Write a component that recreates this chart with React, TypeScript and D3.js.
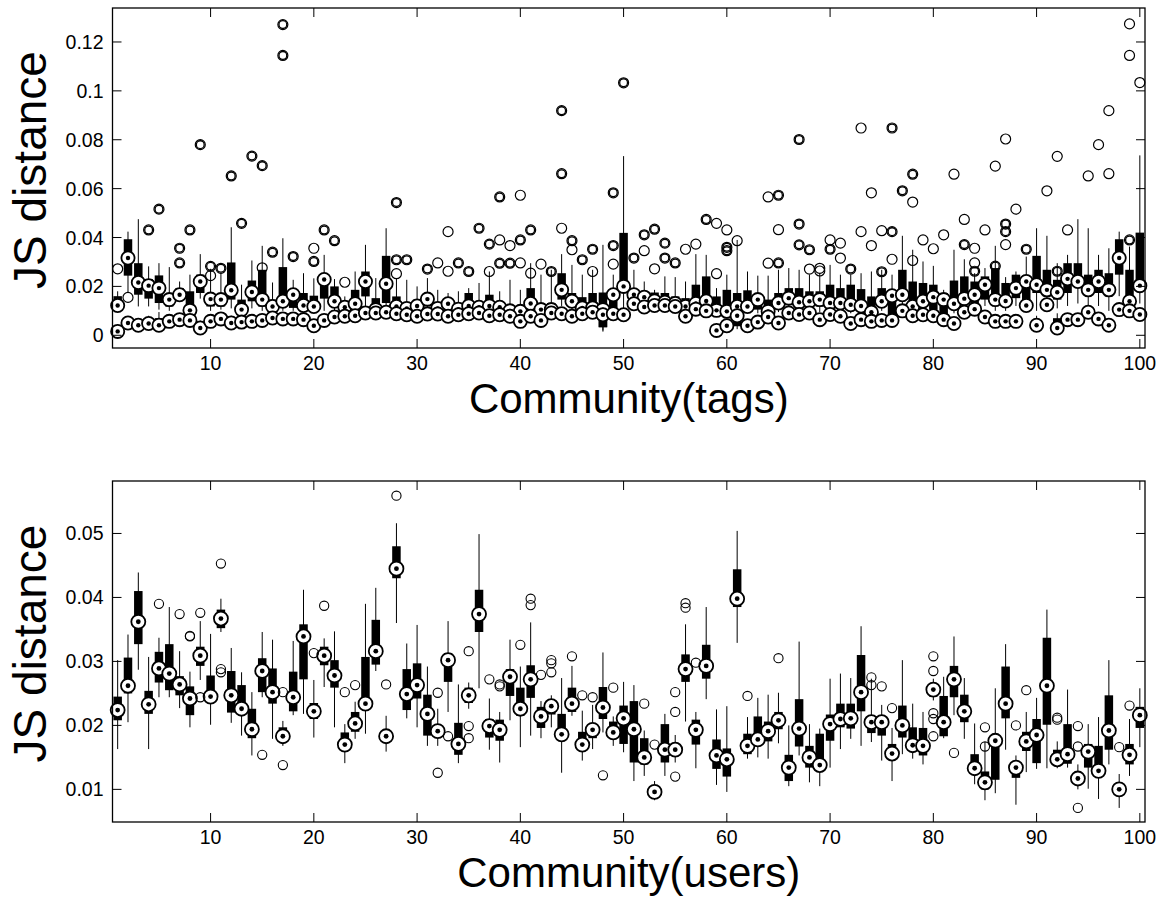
import React from "react";
import * as d3 from "d3";

// Each box row is [lower whisker, Q1, median, Q3, upper whisker]
type Stat = [number, number, number, number, number];
type Outlier = [number, number]; // [community, JS distance]

const communities = d3.range(1, 101);
const xTicks = [10, 20, 30, 40, 50, 60, 70, 80, 90, 100];
const tagsYTicks = [0, 0.02, 0.04, 0.06, 0.08, 0.1, 0.12];
const usersYTicks = [0.01, 0.02, 0.03, 0.04, 0.05];
const tagsDomain: [number, number] = [-0.0052, 0.1339];
const usersDomain: [number, number] = [0.0049, 0.0582];

// Community(tags): upper distribution per community
const tagsUpper: Stat[] = [
  [0.0095, 0.011, 0.0122, 0.016, 0.018], [0.0173, 0.0244, 0.0316, 0.0393, 0.0424],
  [0.0118, 0.0166, 0.0216, 0.0295, 0.0475], [0.0118, 0.015, 0.0203, 0.023, 0.0282],
  [0.0105, 0.0132, 0.0193, 0.0245, 0.0295], [0.01, 0.0118, 0.0146, 0.016, 0.0279],
  [0.014, 0.015, 0.0166, 0.0193, 0.022], [0.007, 0.0091, 0.0102, 0.018, 0.0248],
  [0.015, 0.0173, 0.022, 0.0248, 0.0332], [0.01, 0.0118, 0.0148, 0.0173, 0.0272],
  [0.0105, 0.0118, 0.0146, 0.0159, 0.0254], [0.011, 0.0146, 0.0184, 0.0298, 0.0442],
  [0.008, 0.0091, 0.0105, 0.0146, 0.0207], [0.011, 0.0139, 0.0177, 0.0224, 0.0306],
  [0.01, 0.0118, 0.0146, 0.0268, 0.0366], [0.008, 0.0091, 0.0118, 0.0146, 0.0216],
  [0.01, 0.0125, 0.0139, 0.0279, 0.0397], [0.01, 0.0112, 0.0166, 0.0173, 0.0227],
  [0.0085, 0.0098, 0.0122, 0.0173, 0.0254], [0.009, 0.0112, 0.0118, 0.0162, 0.0233],
  [0.01, 0.015, 0.0228, 0.025, 0.0329], [0.01, 0.0118, 0.0139, 0.02, 0.023],
  [0.0085, 0.0091, 0.0115, 0.0132, 0.0159], [0.0095, 0.0118, 0.0129, 0.0186, 0.0261],
  [0.012, 0.0159, 0.022, 0.0261, 0.037], [0.0085, 0.0098, 0.0105, 0.0152, 0.0234],
  [0.01, 0.0132, 0.0211, 0.0325, 0.0438], [0.009, 0.0105, 0.0118, 0.0159, 0.0234],
  [0.0085, 0.0091, 0.011, 0.0132, 0.0227], [0.007, 0.0071, 0.012, 0.0146, 0.02],
  [0.01, 0.0118, 0.0148, 0.016, 0.0234], [0.008, 0.0088, 0.011, 0.0125, 0.0186],
  [0.007, 0.0078, 0.0129, 0.014, 0.0173], [0.008, 0.0091, 0.0107, 0.0118, 0.018],
  [0.0085, 0.0112, 0.012, 0.0173, 0.0193], [0.008, 0.0091, 0.0115, 0.0125, 0.0214],
  [0.008, 0.0098, 0.012, 0.0166, 0.0261], [0.008, 0.0091, 0.0115, 0.0125, 0.018],
  [0.007, 0.0078, 0.01, 0.0112, 0.0227], [0.0045, 0.005, 0.0098, 0.0118, 0.0186],
  [0.009, 0.0112, 0.013, 0.0193, 0.0295], [0.008, 0.0091, 0.0105, 0.0132, 0.0248],
  [0.008, 0.0088, 0.0105, 0.0132, 0.0268], [0.012, 0.0146, 0.0186, 0.0254, 0.0332],
  [0.01, 0.0118, 0.0139, 0.0173, 0.0288], [0.008, 0.0098, 0.0112, 0.0156, 0.0248],
  [0.008, 0.0091, 0.0112, 0.0173, 0.0268], [0.002, 0.0033, 0.0105, 0.0175, 0.037],
  [0.008, 0.0098, 0.0166, 0.018, 0.0248], [0.009, 0.0187, 0.02, 0.0419, 0.0733],
  [0.011, 0.0146, 0.0166, 0.0173, 0.0268], [0.011, 0.0139, 0.0156, 0.0173, 0.022],
  [0.011, 0.0125, 0.014, 0.0175, 0.0186], [0.01, 0.0132, 0.0135, 0.0173, 0.0241],
  [0.0095, 0.0118, 0.013, 0.0159, 0.0238], [0.0085, 0.0112, 0.0118, 0.0152, 0.022],
  [0.01, 0.0118, 0.013, 0.0207, 0.0332], [0.01, 0.0125, 0.014, 0.0241, 0.0329],
  [0.008, 0.0091, 0.0102, 0.0159, 0.0193], [0.007, 0.0078, 0.0098, 0.0186, 0.0248],
  [0.0075, 0.0085, 0.0118, 0.0173, 0.039], [0.009, 0.0105, 0.0118, 0.0184, 0.0261],
  [0.009, 0.0105, 0.0146, 0.015, 0.0244], [0.007, 0.0085, 0.0098, 0.0146, 0.0244],
  [0.0095, 0.0118, 0.0132, 0.0173, 0.0268], [0.011, 0.0146, 0.0152, 0.0193, 0.0275],
  [0.0085, 0.0091, 0.0135, 0.0193, 0.0268], [0.01, 0.0132, 0.0139, 0.018, 0.0248],
  [0.0095, 0.0118, 0.0146, 0.018, 0.0254], [0.008, 0.0091, 0.0132, 0.0207, 0.0288],
  [0.0095, 0.0118, 0.0132, 0.0193, 0.0248], [0.009, 0.0118, 0.0125, 0.0207, 0.0248],
  [0.0085, 0.0105, 0.012, 0.0189, 0.0254], [0.007, 0.0091, 0.0094, 0.0159, 0.0261],
  [0.01, 0.0132, 0.0139, 0.0193, 0.0268], [0.008, 0.0084, 0.0162, 0.018, 0.0248],
  [0.012, 0.0159, 0.0166, 0.0268, 0.0407], [0.009, 0.0112, 0.0118, 0.022, 0.035],
  [0.01, 0.0118, 0.0139, 0.0214, 0.0302], [0.009, 0.0105, 0.0156, 0.0207, 0.0284],
  [0.008, 0.0084, 0.0146, 0.0173, 0.0186], [0.009, 0.0118, 0.0129, 0.0224, 0.035],
  [0.011, 0.0146, 0.015, 0.0241, 0.0311], [0.011, 0.0132, 0.0166, 0.022, 0.0254],
  [0.012, 0.0146, 0.0207, 0.0241, 0.0275], [0.01, 0.0125, 0.0146, 0.0275, 0.0366],
  [0.01, 0.0132, 0.014, 0.0214, 0.0238], [0.012, 0.0152, 0.0193, 0.0248, 0.0261],
  [0.012, 0.0139, 0.022, 0.0244, 0.0322], [0.01, 0.0173, 0.0207, 0.0325, 0.0438],
  [0.011, 0.0159, 0.0186, 0.0268, 0.0407], [0.011, 0.0146, 0.0176, 0.0227, 0.0295],
  [0.012, 0.0173, 0.0231, 0.0295, 0.0329], [0.013, 0.02, 0.022, 0.0295, 0.0475],
  [0.011, 0.0166, 0.0186, 0.0248, 0.0438], [0.012, 0.0173, 0.022, 0.0268, 0.0329],
  [0.01, 0.0159, 0.0186, 0.0254, 0.0356], [0.016, 0.0248, 0.0316, 0.0393, 0.0424],
  [0.009, 0.013, 0.0139, 0.0268, 0.0363], [0.013, 0.02, 0.0203, 0.042, 0.0736],
];

// Community(tags): lower distribution per community
const tagsLower: Stat[] = [
  [0.0, 0.0008, 0.0016, 0.003, 0.0045], [0.0035, 0.0042, 0.005, 0.0058, 0.007],
  [0.0025, 0.0035, 0.0041, 0.005, 0.0062], [0.003, 0.0038, 0.0048, 0.006, 0.008],
  [0.0025, 0.0033, 0.0041, 0.007, 0.0095], [0.004, 0.0048, 0.0057, 0.0065, 0.008],
  [0.005, 0.0056, 0.0064, 0.0072, 0.0085], [0.004, 0.005, 0.0061, 0.0072, 0.009],
  [0.001, 0.002, 0.003, 0.0045, 0.006], [0.004, 0.0048, 0.0057, 0.0068, 0.0085],
  [0.005, 0.0058, 0.0067, 0.0075, 0.009], [0.003, 0.004, 0.005, 0.0062, 0.008],
  [0.004, 0.0046, 0.0054, 0.0065, 0.008], [0.004, 0.0048, 0.0057, 0.0066, 0.008],
  [0.0045, 0.0052, 0.0061, 0.007, 0.0085], [0.0055, 0.0062, 0.0071, 0.008, 0.0095],
  [0.005, 0.0058, 0.0067, 0.0076, 0.009], [0.005, 0.0058, 0.0067, 0.0076, 0.009],
  [0.0045, 0.0055, 0.0064, 0.0075, 0.009], [0.002, 0.003, 0.0039, 0.005, 0.0065],
  [0.0045, 0.0052, 0.0061, 0.007, 0.0085], [0.006, 0.0066, 0.0075, 0.0084, 0.0098],
  [0.006, 0.0068, 0.0078, 0.0088, 0.01], [0.0065, 0.0072, 0.008, 0.0088, 0.01],
  [0.0075, 0.0083, 0.0091, 0.01, 0.0115], [0.0075, 0.0083, 0.0091, 0.0098, 0.011],
  [0.008, 0.0087, 0.0094, 0.0102, 0.0115], [0.007, 0.008, 0.0088, 0.0096, 0.011],
  [0.0065, 0.0076, 0.0084, 0.0092, 0.0105], [0.006, 0.0068, 0.0078, 0.0086, 0.01],
  [0.007, 0.008, 0.0087, 0.0095, 0.0108], [0.007, 0.008, 0.0087, 0.0095, 0.0108],
  [0.006, 0.007, 0.0078, 0.0088, 0.01], [0.0065, 0.0076, 0.0084, 0.0092, 0.0105],
  [0.007, 0.008, 0.0088, 0.0096, 0.011], [0.0075, 0.0083, 0.0091, 0.0098, 0.0112],
  [0.0065, 0.0072, 0.008, 0.0088, 0.01], [0.0065, 0.0076, 0.0084, 0.0092, 0.0105],
  [0.006, 0.007, 0.0078, 0.0086, 0.01], [0.004, 0.0048, 0.0057, 0.0066, 0.008],
  [0.006, 0.007, 0.0078, 0.0086, 0.01], [0.0045, 0.0052, 0.0061, 0.007, 0.0085],
  [0.0075, 0.0083, 0.0091, 0.0098, 0.0112], [0.007, 0.008, 0.0088, 0.0096, 0.011],
  [0.006, 0.007, 0.0078, 0.0086, 0.01], [0.007, 0.008, 0.0088, 0.0096, 0.011],
  [0.008, 0.0087, 0.0094, 0.0102, 0.0115], [0.0015, 0.0033, 0.0084, 0.0095, 0.011],
  [0.007, 0.008, 0.0088, 0.0096, 0.011], [0.0065, 0.0076, 0.0084, 0.0092, 0.0105],
  [0.011, 0.012, 0.0129, 0.0138, 0.015], [0.0095, 0.0106, 0.0116, 0.0125, 0.014],
  [0.01, 0.0112, 0.0122, 0.013, 0.0145], [0.01, 0.0112, 0.0122, 0.013, 0.0145],
  [0.0095, 0.0108, 0.0118, 0.0126, 0.014], [0.0055, 0.0066, 0.0078, 0.0088, 0.01],
  [0.0085, 0.0096, 0.0107, 0.0115, 0.013], [0.008, 0.009, 0.01, 0.011, 0.0125],
  [0.0, 0.001, 0.002, 0.0035, 0.005], [0.0015, 0.0028, 0.0039, 0.005, 0.0065],
  [0.0025, 0.0037, 0.008, 0.0091, 0.0105], [0.0015, 0.0028, 0.0039, 0.005, 0.0065],
  [0.003, 0.0044, 0.0054, 0.0064, 0.008], [0.0055, 0.0065, 0.0075, 0.0084, 0.0095],
  [0.0025, 0.0038, 0.005, 0.0062, 0.0075], [0.007, 0.0082, 0.0091, 0.01, 0.0115],
  [0.0065, 0.0075, 0.0085, 0.0094, 0.0108], [0.007, 0.0082, 0.0091, 0.01, 0.0115],
  [0.004, 0.0054, 0.0064, 0.0074, 0.0088], [0.0065, 0.0075, 0.0085, 0.0094, 0.0108],
  [0.0055, 0.0068, 0.0078, 0.0088, 0.01], [0.0025, 0.0038, 0.0048, 0.006, 0.0075],
  [0.004, 0.0054, 0.0064, 0.0074, 0.0088], [0.0035, 0.0047, 0.0057, 0.0068, 0.008],
  [0.004, 0.0051, 0.0061, 0.007, 0.0085], [0.004, 0.0051, 0.0061, 0.007, 0.0085],
  [0.008, 0.009, 0.01, 0.011, 0.0125], [0.0055, 0.007, 0.008, 0.009, 0.0105],
  [0.006, 0.0074, 0.0084, 0.0094, 0.0108], [0.0055, 0.007, 0.008, 0.009, 0.0105],
  [0.004, 0.0054, 0.0064, 0.0074, 0.0088], [0.0025, 0.0038, 0.0048, 0.006, 0.0075],
  [0.007, 0.0084, 0.0094, 0.0104, 0.0118], [0.0085, 0.0096, 0.0107, 0.0117, 0.013],
  [0.005, 0.0065, 0.0075, 0.0085, 0.01], [0.0035, 0.0047, 0.0057, 0.0068, 0.008],
  [0.0035, 0.0047, 0.0057, 0.0068, 0.008], [0.0035, 0.0047, 0.0057, 0.0068, 0.008],
  [0.01, 0.0112, 0.0122, 0.0132, 0.0145], [0.002, 0.003, 0.0041, 0.006, 0.008],
  [0.01, 0.0115, 0.0125, 0.0135, 0.015], [0.001, 0.002, 0.003, 0.007, 0.009],
  [0.004, 0.0054, 0.0064, 0.0074, 0.0088], [0.004, 0.0054, 0.0064, 0.0074, 0.0088],
  [0.007, 0.0084, 0.0094, 0.0104, 0.0118], [0.0045, 0.0057, 0.0067, 0.0077, 0.009],
  [0.002, 0.003, 0.0041, 0.0052, 0.0065], [0.008, 0.0095, 0.0105, 0.0115, 0.013],
  [0.0075, 0.009, 0.01, 0.011, 0.0125], [0.006, 0.0075, 0.0085, 0.0095, 0.011],
];

// Outliers present in both tag distributions
const tagsOutliersBoth: Outlier[] = [
  [4, 0.0431], [5, 0.0516], [7, 0.0356], [7, 0.0296], [8, 0.0431], [9, 0.078],
  [10, 0.0282], [11, 0.0274], [12, 0.0652], [13, 0.0458], [14, 0.0733], [15, 0.0694],
  [16, 0.034], [17, 0.1271], [17, 0.1145], [18, 0.0322], [20, 0.0302], [21, 0.0431],
  [22, 0.0387], [28, 0.0543], [28, 0.0309], [29, 0.0309], [31, 0.0271], [34, 0.0296],
  [35, 0.0261], [36, 0.0438], [37, 0.0373], [38, 0.0566], [38, 0.0295], [39, 0.0295],
  [40, 0.039], [41, 0.0431], [43, 0.0261], [44, 0.0919], [44, 0.0661], [45, 0.0387],
  [46, 0.0309], [47, 0.0352], [49, 0.0583], [49, 0.0367], [50, 0.1033], [51, 0.0316],
  [52, 0.0411], [53, 0.0434], [54, 0.0377], [54, 0.0316], [55, 0.0296], [58, 0.0474],
  [60, 0.036], [60, 0.0346], [65, 0.0573], [65, 0.0296], [67, 0.0801], [67, 0.0455],
  [67, 0.037], [68, 0.035], [70, 0.0352], [72, 0.0271], [75, 0.026], [76, 0.0848],
  [76, 0.0424], [77, 0.0591], [78, 0.0659], [83, 0.0371], [84, 0.0262], [86, 0.0283],
  [87, 0.0455], [87, 0.0424], [89, 0.0352], [92, 0.0262], [99, 0.039],
];

// Outliers of the upper tag distribution only
const tagsOutliersUpper: Outlier[] = [
  [1, 0.0272], [2, 0.0155], [10, 0.0244], [15, 0.0276], [20, 0.0356], [23, 0.0217],
  [28, 0.0252], [32, 0.0296], [33, 0.0424], [33, 0.0262], [37, 0.0261], [38, 0.039],
  [39, 0.0367], [40, 0.0573], [40, 0.0296], [41, 0.0254], [42, 0.0291], [44, 0.0438],
  [45, 0.035], [47, 0.0261], [49, 0.0291], [52, 0.0346], [53, 0.0272], [56, 0.0352],
  [57, 0.0373], [59, 0.0458], [59, 0.0252], [60, 0.0431], [61, 0.0387], [64, 0.0566],
  [64, 0.0295], [65, 0.0432], [68, 0.0271], [69, 0.0274], [69, 0.0263], [70, 0.039],
  [71, 0.0377], [71, 0.0316], [73, 0.0848], [73, 0.0424], [74, 0.0583], [74, 0.0367],
  [75, 0.0428], [76, 0.0311], [78, 0.0545], [78, 0.0306], [79, 0.039], [80, 0.0354],
  [81, 0.0411], [82, 0.0659], [83, 0.0474], [84, 0.0356], [84, 0.0296], [85, 0.0431],
  [86, 0.0692], [87, 0.0803], [87, 0.0371], [88, 0.0516], [91, 0.0591], [92, 0.0732],
  [93, 0.0431], [95, 0.0652], [96, 0.078], [97, 0.0661], [97, 0.0919], [99, 0.1274],
  [99, 0.1145], [100, 0.1034],
];

// Community(users)
const usersStats: Stat[] = [
  [0.0163, 0.0208, 0.0224, 0.0245, 0.0302], [0.0205, 0.025, 0.0262, 0.0306, 0.0342],
  [0.0287, 0.0327, 0.0362, 0.041, 0.0439], [0.0163, 0.0218, 0.0233, 0.0254, 0.0307],
  [0.0244, 0.0267, 0.0289, 0.0315, 0.0337], [0.0244, 0.0255, 0.0281, 0.0327, 0.0385],
  [0.0227, 0.0247, 0.0264, 0.0277, 0.0316], [0.0197, 0.0216, 0.0242, 0.0261, 0.0284],
  [0.0271, 0.0293, 0.0309, 0.0323, 0.0363], [0.0201, 0.0237, 0.0245, 0.0278, 0.0343],
  [0.0346, 0.0352, 0.0367, 0.0381, 0.0398], [0.0204, 0.022, 0.0247, 0.0285, 0.0321],
  [0.0184, 0.022, 0.0226, 0.0263, 0.0283], [0.0153, 0.018, 0.0194, 0.0226, 0.0252],
  [0.0244, 0.0252, 0.0285, 0.0305, 0.0346], [0.0179, 0.0234, 0.0252, 0.0289, 0.0334],
  [0.0168, 0.018, 0.0183, 0.0197, 0.0207], [0.0216, 0.0222, 0.0244, 0.0284, 0.0332],
  [0.0218, 0.0272, 0.0339, 0.0358, 0.0412], [0.0181, 0.021, 0.0222, 0.0235, 0.0271],
  [0.026, 0.0294, 0.0309, 0.0323, 0.0336], [0.0197, 0.0259, 0.0278, 0.0302, 0.0347],
  [0.0141, 0.0165, 0.017, 0.0189, 0.0202], [0.0179, 0.019, 0.0203, 0.0221, 0.0237],
  [0.0187, 0.023, 0.0234, 0.0307, 0.039], [0.0285, 0.0295, 0.0316, 0.0365, 0.0415],
  [0.0159, 0.0178, 0.0183, 0.0192, 0.0215], [0.036, 0.043, 0.0445, 0.048, 0.0516],
  [0.0211, 0.0224, 0.0249, 0.0288, 0.0328], [0.0197, 0.0242, 0.0263, 0.0297, 0.0357],
  [0.0168, 0.0184, 0.0218, 0.0248, 0.0292], [0.0168, 0.0183, 0.0191, 0.02, 0.0226],
  [0.0221, 0.0268, 0.0302, 0.0313, 0.0363], [0.0141, 0.0154, 0.0171, 0.0204, 0.0264],
  [0.0226, 0.0235, 0.0247, 0.0259, 0.0267], [0.0258, 0.0346, 0.0374, 0.0412, 0.0499],
  [0.0162, 0.0181, 0.0199, 0.021, 0.0242], [0.0142, 0.0176, 0.0193, 0.0209, 0.0221],
  [0.0208, 0.0246, 0.0276, 0.0288, 0.0334], [0.0166, 0.0215, 0.0226, 0.0259, 0.0292],
  [0.0184, 0.0243, 0.0272, 0.0294, 0.0361], [0.018, 0.0196, 0.0214, 0.0229, 0.0238],
  [0.0197, 0.0217, 0.023, 0.0237, 0.0247], [0.0126, 0.018, 0.0186, 0.0218, 0.0274],
  [0.0215, 0.0221, 0.0234, 0.0259, 0.0293], [0.0145, 0.0162, 0.017, 0.019, 0.0223],
  [0.0163, 0.018, 0.0193, 0.0201, 0.0232], [0.0189, 0.021, 0.0228, 0.026, 0.0314],
  [0.0168, 0.018, 0.0189, 0.0206, 0.0214], [0.0158, 0.0171, 0.0211, 0.0231, 0.0268],
  [0.0113, 0.0142, 0.0194, 0.0238, 0.0263], [0.0121, 0.0139, 0.015, 0.018, 0.0192],
  [0.0083, 0.0093, 0.0096, 0.01, 0.0113], [0.0121, 0.0142, 0.0162, 0.0202, 0.0218],
  [0.0142, 0.0155, 0.0162, 0.017, 0.0185], [0.0206, 0.0268, 0.0288, 0.0311, 0.0358],
  [0.0133, 0.017, 0.0193, 0.0209, 0.0221], [0.0241, 0.0273, 0.0293, 0.0326, 0.0385],
  [0.0107, 0.0132, 0.0153, 0.0178, 0.0225], [0.0096, 0.012, 0.0147, 0.0164, 0.023],
  [0.0329, 0.0385, 0.0398, 0.0444, 0.0504], [0.0148, 0.0155, 0.0168, 0.0187, 0.0213],
  [0.015, 0.017, 0.0178, 0.0214, 0.0243], [0.0148, 0.0175, 0.0191, 0.0206, 0.0248],
  [0.0172, 0.0194, 0.0208, 0.0221, 0.0251], [0.0105, 0.0113, 0.0134, 0.0154, 0.02],
  [0.0153, 0.0167, 0.0195, 0.0241, 0.0331], [0.0111, 0.0134, 0.015, 0.0168, 0.0202],
  [0.0105, 0.0132, 0.0138, 0.0187, 0.0195], [0.0134, 0.0176, 0.0202, 0.0217, 0.0273],
  [0.0163, 0.0197, 0.021, 0.0234, 0.0281], [0.0179, 0.0195, 0.0211, 0.0234, 0.0274],
  [0.0168, 0.0222, 0.0252, 0.031, 0.0355], [0.0174, 0.0188, 0.0205, 0.0212, 0.0273],
  [0.0145, 0.0184, 0.0205, 0.0213, 0.0232], [0.0113, 0.015, 0.0156, 0.0171, 0.0196],
  [0.0155, 0.0181, 0.02, 0.0231, 0.0302], [0.0148, 0.0165, 0.0169, 0.0197, 0.0234],
  [0.0139, 0.0153, 0.0168, 0.0196, 0.0221], [0.0239, 0.0245, 0.0256, 0.0265, 0.0273],
  [0.018, 0.0183, 0.0205, 0.0246, 0.0276], [0.0216, 0.0244, 0.0272, 0.0293, 0.0339],
  [0.0179, 0.0205, 0.0222, 0.0248, 0.0274], [0.0108, 0.0125, 0.0133, 0.0155, 0.0203],
  [0.0083, 0.01, 0.0111, 0.0128, 0.0174], [0.0094, 0.0115, 0.0176, 0.018, 0.0258],
  [0.0162, 0.0211, 0.0234, 0.0292, 0.0327], [0.0076, 0.0118, 0.0134, 0.0138, 0.0153],
  [0.0127, 0.016, 0.0175, 0.019, 0.0221], [0.0132, 0.0141, 0.0185, 0.021, 0.0243],
  [0.0133, 0.0201, 0.0262, 0.0337, 0.0381], [0.0133, 0.0143, 0.0147, 0.0162, 0.0175],
  [0.0134, 0.014, 0.0155, 0.0202, 0.0256], [0.01, 0.011, 0.0117, 0.0125, 0.0139],
  [0.0101, 0.0134, 0.0159, 0.0171, 0.0202], [0.0085, 0.012, 0.0129, 0.0168, 0.0213],
  [0.0139, 0.0162, 0.0192, 0.0247, 0.0302], [0.0071, 0.0095, 0.01, 0.0108, 0.0124],
  [0.0121, 0.0139, 0.0154, 0.0171, 0.021], [0.0166, 0.0196, 0.0216, 0.0229, 0.0258],
];

const usersOutliers: Outlier[] = [
  [5, 0.039], [7, 0.0374], [8, 0.0339], [8, 0.034], [9, 0.0376], [9, 0.0244],
  [11, 0.0453], [11, 0.0288], [11, 0.0283], [15, 0.0154], [17, 0.0252], [17, 0.0138],
  [20, 0.0313], [21, 0.0387], [23, 0.0252], [24, 0.0263], [27, 0.0264], [28, 0.0559],
  [32, 0.0251], [32, 0.0126], [33, 0.0183], [35, 0.0316], [35, 0.0199], [35, 0.018],
  [37, 0.0272], [38, 0.0264], [38, 0.0261], [40, 0.0326], [41, 0.0398], [41, 0.0388],
  [42, 0.0279], [43, 0.0302], [43, 0.0297], [43, 0.0283], [45, 0.0308], [46, 0.0247],
  [47, 0.0244], [48, 0.0122], [49, 0.0259], [52, 0.0234], [53, 0.017], [55, 0.0252],
  [55, 0.0221], [55, 0.012], [56, 0.0391], [56, 0.0384], [57, 0.0298], [62, 0.0246],
  [65, 0.0305], [74, 0.0275], [74, 0.0263], [75, 0.0261], [76, 0.0227], [80, 0.0308],
  [80, 0.0285], [80, 0.0219], [80, 0.021], [80, 0.0183], [82, 0.0157], [85, 0.0197],
  [85, 0.0167], [88, 0.02], [89, 0.0255], [92, 0.0212], [92, 0.0209], [94, 0.0199],
  [94, 0.0167], [94, 0.0071], [98, 0.0166], [99, 0.0231],
];

const FONT = "'Liberation Sans', Arial, Helvetica, sans-serif";
const PLOT_LEFT = 112.5;
const PLOT_RIGHT = 1145;

type Scale = d3.ScaleLinear<number, number>;

function BoxSeries({ stats, x, y, boxW, medR, dotR }: { stats: Stat[]; x: Scale; y: Scale; boxW: number; medR: number; dotR: number }) {
  return (
    <g>
      {stats.map((s, i) => {
        const cx = x(communities[i]);
        return (
          <g key={i}>
            <line x1={cx} x2={cx} y1={y(s[0])} y2={y(s[4])} stroke="#000" strokeWidth={1} />
            <rect x={cx - boxW / 2} y={y(s[3])} width={boxW} height={Math.max(1, y(s[1]) - y(s[3]))} fill="#000" />
          </g>
        );
      })}
      {stats.map((s, i) => {
        const cx = x(communities[i]);
        return (
          <g key={"m" + i}>
            <circle cx={cx} cy={y(s[2])} r={medR} fill="#fff" stroke="#000" strokeWidth={1.8} />
            <circle cx={cx} cy={y(s[2])} r={dotR} fill="#000" />
          </g>
        );
      })}
    </g>
  );
}

function Outliers({ pts, x, y, r, sw }: { pts: Outlier[]; x: Scale; y: Scale; r: number; sw: number }) {
  return (
    <g>
      {pts.map(([c, v], i) => (
        <circle key={i} cx={x(c)} cy={y(v)} r={r} fill="none" stroke="#000" strokeWidth={sw} />
      ))}
    </g>
  );
}

function Axes({ top, bottom, x, y, yTicks, xLabel }: { top: number; bottom: number; x: Scale; y: Scale; yTicks: number[]; xLabel: string }) {
  const tl = 9;
  const mid = (top + bottom) / 2;
  return (
    <g fontFamily={FONT} fill="#000">
      <rect x={PLOT_LEFT} y={top} width={PLOT_RIGHT - PLOT_LEFT} height={bottom - top} fill="none" stroke="#000" strokeWidth={1.3} />
      {xTicks.map((t) => (
        <g key={"x" + t}>
          <line x1={x(t)} x2={x(t)} y1={bottom} y2={bottom - tl} stroke="#000" strokeWidth={1} />
          <line x1={x(t)} x2={x(t)} y1={top} y2={top + tl} stroke="#000" strokeWidth={1} />
          <text x={x(t)} y={bottom + 22} fontSize={19.5} textAnchor="middle">{String(t)}</text>
        </g>
      ))}
      {yTicks.map((t) => (
        <g key={"y" + t}>
          <line x1={PLOT_LEFT} x2={PLOT_LEFT + tl} y1={y(t)} y2={y(t)} stroke="#000" strokeWidth={1} />
          <line x1={PLOT_RIGHT} x2={PLOT_RIGHT - tl} y1={y(t)} y2={y(t)} stroke="#000" strokeWidth={1} />
          <text x={PLOT_LEFT - 9} y={y(t) + 7} fontSize={19.5} textAnchor="end">{String(t)}</text>
        </g>
      ))}
      <text transform={`translate(46,${mid - 8}) rotate(-90)`} fontSize={46} textAnchor="middle">JS distance</text>
      <text x={(PLOT_LEFT + PLOT_RIGHT) / 2} y={bottom + 65} fontSize={42} textAnchor="middle">{xLabel}</text>
    </g>
  );
}

export default function App() {
  const x = d3.scaleLinear().domain([0.5, 100.5]).range([PLOT_LEFT, PLOT_RIGHT]);
  const tagsTop = 8, tagsBottom = 348;
  const usersTop = 481, usersBottom = 822;
  const yTags = d3.scaleLinear().domain(tagsDomain).range([tagsBottom, tagsTop]);
  const yUsers = d3.scaleLinear().domain(usersDomain).range([usersBottom, usersTop]);

  return (
    <svg width={1166} height={901} style={{ position: "absolute", left: 0, top: 0, background: "#fff" }}>
      <rect width={1166} height={901} fill="#fff" />
      <BoxSeries stats={tagsUpper} x={x} y={yTags} boxW={8.5} medR={6.6} dotR={2.2} />
      <Outliers pts={[...tagsOutliersBoth, ...tagsOutliersUpper]} x={x} y={yTags} r={5} sw={1.2} />
      <BoxSeries stats={tagsLower} x={x} y={yTags} boxW={8.5} medR={6.6} dotR={2.2} />
      <Outliers pts={tagsOutliersBoth} x={x} y={yTags} r={3.9} sw={1.3} />
      <Axes top={tagsTop} bottom={tagsBottom} x={x} y={yTags} yTicks={tagsYTicks} xLabel="Community(tags)" />

      <BoxSeries stats={usersStats} x={x} y={yUsers} boxW={8.5} medR={7} dotR={2.4} />
      <Outliers pts={usersOutliers} x={x} y={yUsers} r={4.6} sw={1.1} />
      <Axes top={usersTop} bottom={usersBottom} x={x} y={yUsers} yTicks={usersYTicks} xLabel="Community(users)" />
    </svg>
  );
}
